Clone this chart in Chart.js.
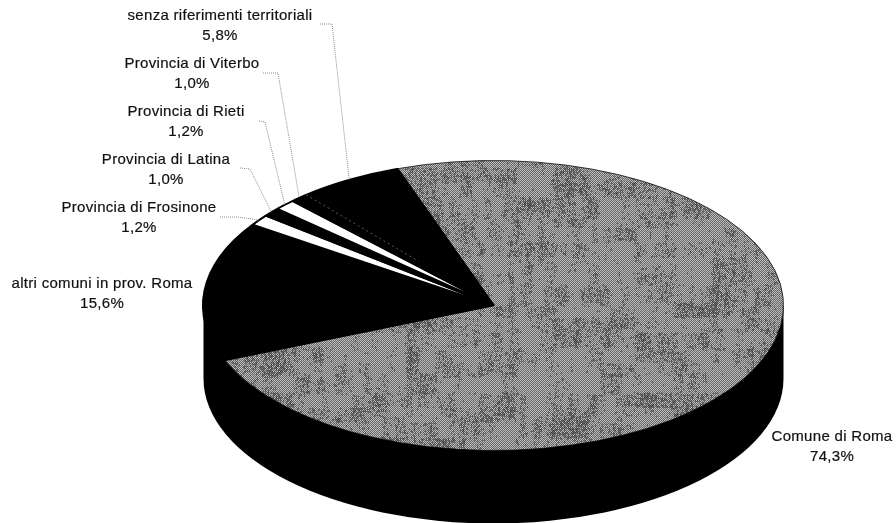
<!DOCTYPE html>
<html>
<head>
<meta charset="utf-8">
<title>Comune di Roma</title>
<script src="https://cdn.jsdelivr.net/npm/chart.js@4"></script>
<style>
    body { margin: 0; background: #fff; }
    canvas { display: block; }
</style>
</head>
<body>
<canvas id="pieChart" width="896" height="523"></canvas>
<script>
const categories = ['Comune di Roma', 'altri comuni in prov. Roma', 'Provincia di Frosinone',
    'Provincia di Latina', 'Provincia di Rieti', 'Provincia di Viterbo', 'senza riferimenti territoriali'];
const shares = [74.3, 15.6, 1.2, 1.0, 1.2, 1.0, 5.8];
const shareLabels = ['74,3%', '15,6%', '1,2%', '1,0%', '1,2%', '1,0%', '5,8%'];

// label centres and the elbow of each leader line, same order as categories
const labelSpots = [[832, 437], [102, 284], [139, 208], [166, 160], [186, 112], [192, 64], [220, 16]];
const leaderStarts = [null, null, [220, 217], [240, 168], [259, 121], [263, 73], [320, 24]];
const leaderElbows = [null, null, [238, 217], [250, 169], [265, 122], [278, 73], [332, 24]];

const tilt = 0.5;      // vertical squash of the pie
const wallDepth = 73;  // height of the side wall
const startAngle = -19.4;

// repeatable speckle for the scanned look of the grey slice
function speckle(x, y) {
    const v = Math.sin(x * 12.9898 + y * 78.233) * 43758.5453;
    return v - Math.floor(v);
}

// grey dithered fill with soft darker streaks, like the scanned print
function makeTexture(ctx) {
    const tile = document.createElement('canvas');
    tile.width = 600;
    tile.height = 300;
    const t = tile.getContext('2d');
    for (let y = 0; y < tile.height; y++) {
        const jitter = speckle(3, y) * 4;
        for (let x = 0; x < tile.width; x++) {
            const streak = speckle(Math.floor((x + jitter) / 6), Math.floor(y / 22));
            const patch = speckle(Math.floor((x + jitter) / 37) + 50, Math.floor(y / 15) + 50);
            const chance = Math.max(0, streak * 0.55 + patch * 0.55 - 0.42);
            const darker = speckle(x + 200, y + 200) < chance;
            const on = (x + y) % 2 === 0;
            const level = on ? (darker ? 45 : 70) : (darker ? 125 : 222);
            t.fillStyle = `rgb(${level},${level},${level})`;
            t.fillRect(x, y, 1, 1);
        }
    }
    const pattern = ctx.createPattern(tile, 'repeat');
    pattern.setTransform(new DOMMatrix().scale(1, 1 / tilt));
    return pattern;
}

const tiltPlugin = {
    id: 'tiltPlugin',
    beforeDatasetsDraw(chart) {
        const ctx = chart.ctx;
        const arc = chart.getDatasetMeta(0).data[0];
        ctx.save();
        // side wall under the top face
        ctx.fillStyle = '#000';
        ctx.beginPath();
        ctx.ellipse(arc.x, arc.y + wallDepth, arc.outerRadius, arc.outerRadius * tilt, 0, 0, Math.PI);
        ctx.lineTo(arc.x - arc.outerRadius, arc.y);
        ctx.lineTo(arc.x + arc.outerRadius, arc.y);
        ctx.closePath();
        ctx.fill();
        ctx.translate(arc.x, arc.y);
        ctx.scale(1, tilt);
        ctx.translate(-arc.x, -arc.y);
    },
    afterDatasetsDraw(chart) {
        const ctx = chart.ctx;
        ctx.restore();
        const arcs = chart.getDatasetMeta(0).data;

        ctx.save();
        ctx.strokeStyle = '#8a8a8a';
        ctx.lineWidth = 1;
        ctx.setLineDash([1, 1]);
        arcs.forEach((arc, i) => {
            if (!leaderStarts[i]) return;
            const mid = (arc.startAngle + arc.endAngle) / 2;
            ctx.beginPath();
            ctx.moveTo(leaderStarts[i][0], leaderStarts[i][1]);
            ctx.lineTo(leaderElbows[i][0], leaderElbows[i][1]);
            ctx.lineTo(arc.x + Math.cos(mid) * arc.outerRadius, arc.y + Math.sin(mid) * arc.outerRadius * tilt);
            ctx.stroke();
        });
        // faint seam between the last two black slices
        const seam = arcs[6];
        const a = seam.startAngle;
        ctx.strokeStyle = '#5a5a5a';
        ctx.setLineDash([2, 3]);
        ctx.beginPath();
        ctx.moveTo(seam.x + Math.cos(a) * seam.outerRadius, seam.y + Math.sin(a) * seam.outerRadius * tilt);
        ctx.lineTo(seam.x + Math.cos(a) * seam.outerRadius * 0.4, seam.y + Math.sin(a) * seam.outerRadius * 0.4 * tilt);
        ctx.stroke();
        ctx.setLineDash([]);

        ctx.fillStyle = '#111';
        ctx.strokeStyle = '#111';
        ctx.lineWidth = 0.2;
        ctx.font = '15px "Liberation Sans", Arial, sans-serif';
        ctx.letterSpacing = '0.3px';
        ctx.textAlign = 'center';
        ctx.textBaseline = 'middle';
        categories.forEach((name, i) => {
            ctx.fillText(name, labelSpots[i][0], labelSpots[i][1]);
            ctx.strokeText(name, labelSpots[i][0], labelSpots[i][1]);
            ctx.fillText(shareLabels[i], labelSpots[i][0], labelSpots[i][1] + 20);
            ctx.strokeText(shareLabels[i], labelSpots[i][0], labelSpots[i][1] + 20);
        });
        ctx.restore();
    }
};

function initPieChart() {
    const canvas = document.getElementById('pieChart');
    const ctx = canvas.getContext('2d');
    new Chart(ctx, {
        type: 'pie',
        data: {
            labels: categories,
            datasets: [{
                data: shares,
                backgroundColor: [makeTexture(ctx), '#000', '#fff', '#000', '#fff', '#000', '#000'],
                borderColor: '#000',
                borderWidth: [1, 3, 3, 3, 3, 3, 3],
                clip: false
            }]
        },
        options: {
            responsive: false,
            animation: false,
            rotation: startAngle,
            radius: 290,
            layout: { padding: { left: 91, top: 88 } },
            plugins: { legend: { display: false }, tooltip: { enabled: false } }
        },
        plugins: [tiltPlugin]
    });
}

initPieChart();
</script>
</body>
</html>
